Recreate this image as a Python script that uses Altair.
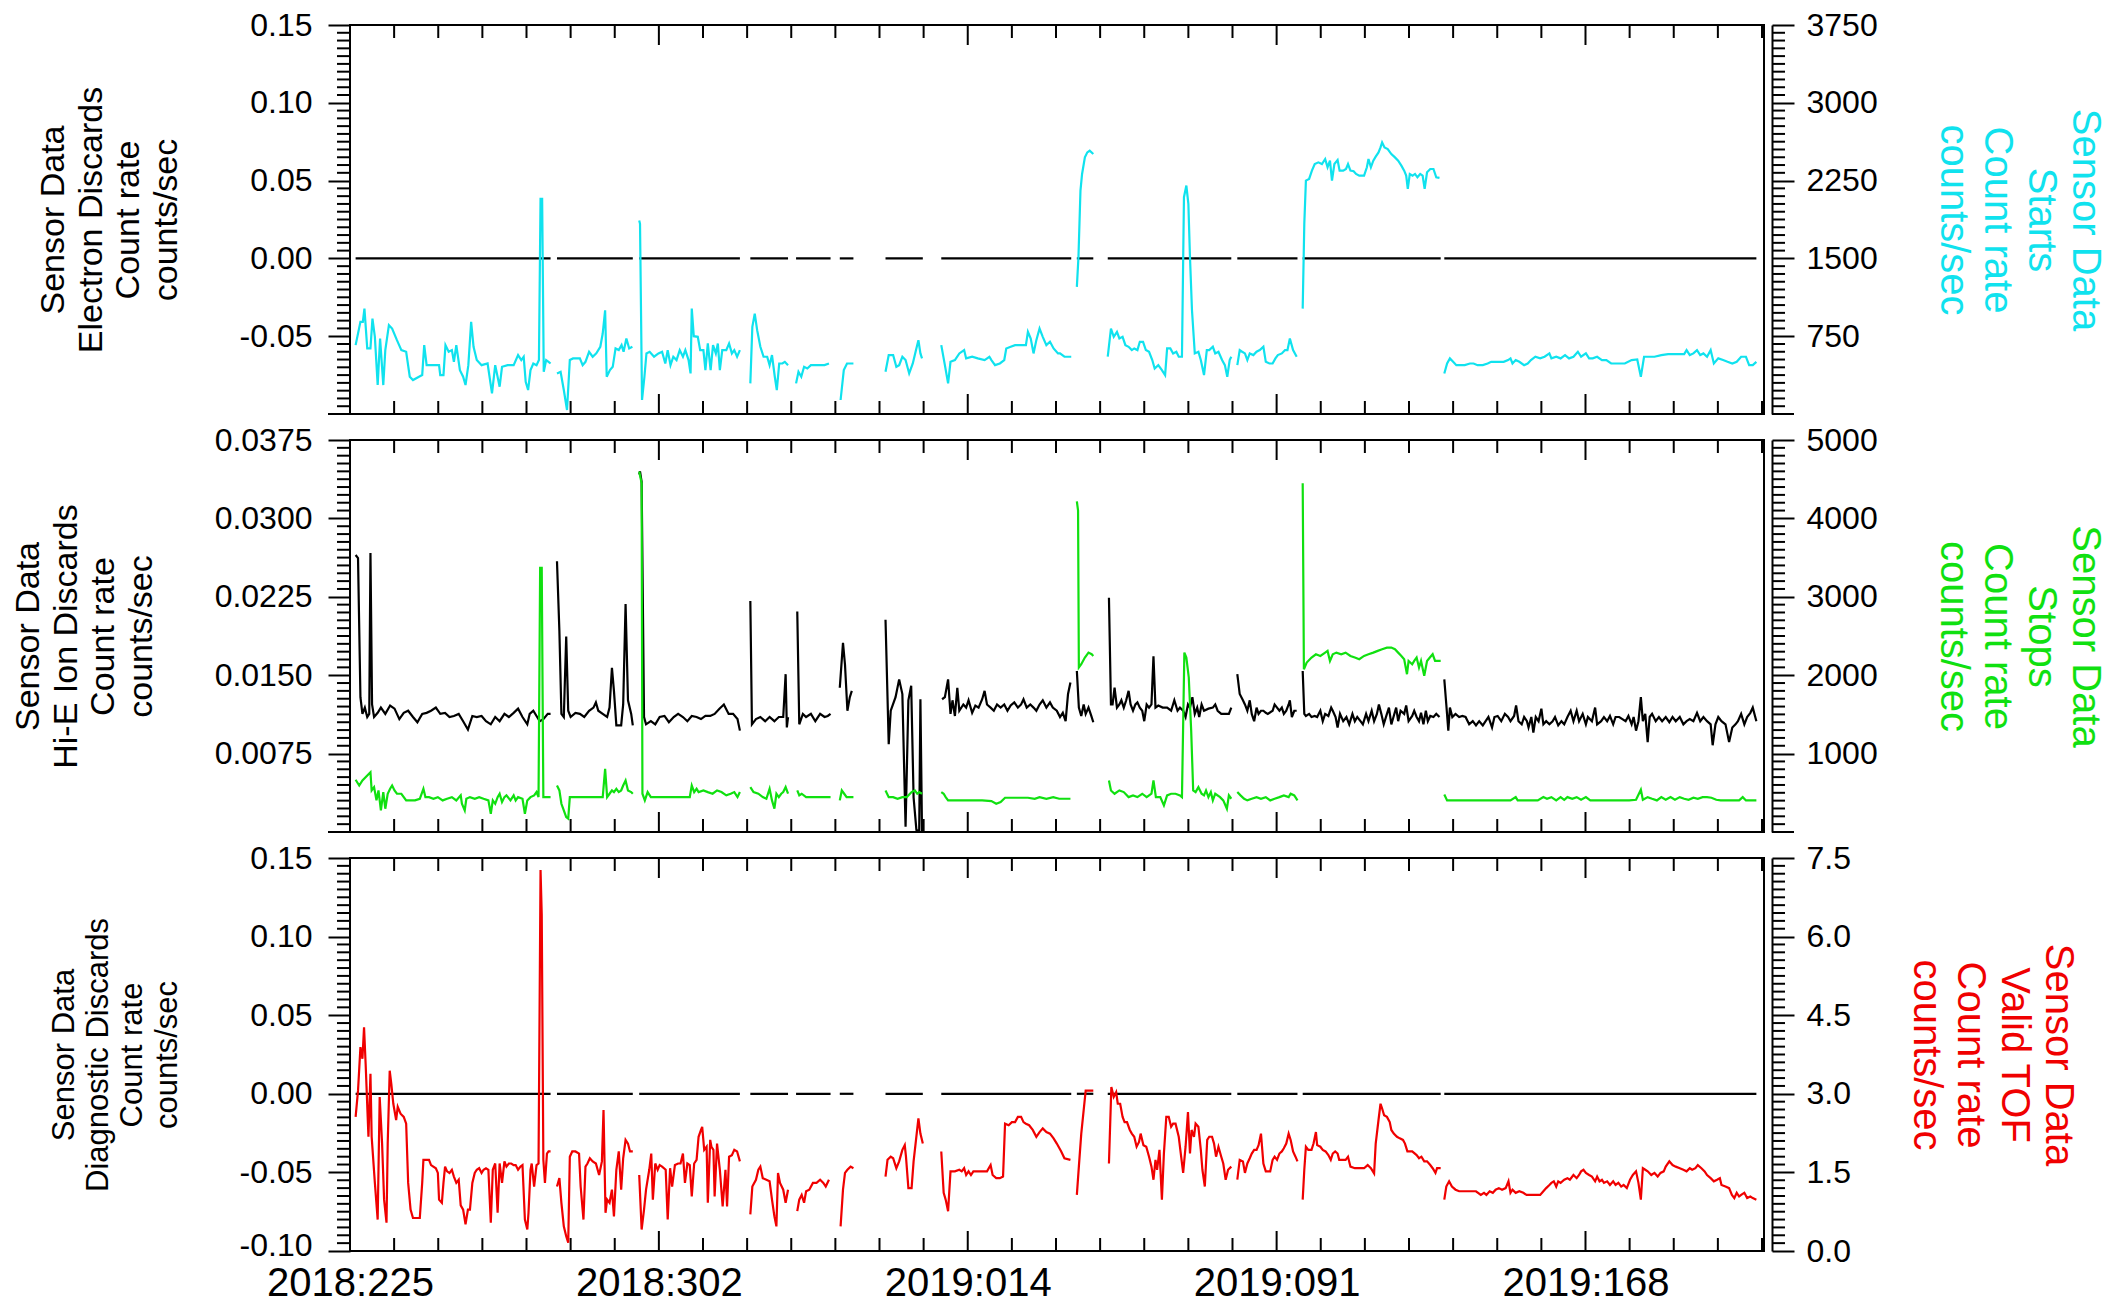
import altair as alt
import pandas as pd

# ----------------------------------------------------------------- x axis
X_DOMAIN = [225, 577.5]          # day count from 2018:000 (2019:001 == 366)
MAJOR_DAYS = [225, 302, 379, 456, 533]
MAJOR_LABELS = ["2018:225", "2018:302", "2019:014", "2019:091", "2019:168"]
MINOR_DAYS = [236, 247, 258, 269, 280, 291, 313, 324, 335, 346, 357, 368,
              390, 401, 412, 423, 434, 445, 467, 478, 489, 500, 511, 522,
              544, 555, 566, 577]

# data coverage intervals (the discards channels are 0 counts/sec there)
COVERAGE = [(226.4, 275.0), (276.6, 295.5), (297.1, 322.2), (324.8, 334.2),
            (336.2, 344.8), (347.1, 350.5), (358.5, 367.8), (372.4, 404.8),
            (406.2, 410.3), (413.9, 444.7), (446.2, 461.2), (462.5, 496.9),
            (497.8, 575.6)]
ELECTRON_DISCARDS = 0.0
DIAGNOSTIC_DISCARDS = 0.0

# ----------------------------------------------------------------- Starts (cyan, right axis panel 1)
STARTS = [
 [(226.4,664),(227.6,888),(228.2,888),(228.6,1016),(229.3,632),(230.1,632),(230.6,920),(231.2,744),(231.9,279),(232.5,728),
  (233.3,279),(233.8,616),(234.7,856),(235.5,824),(236.7,712),(237.8,616),(239.0,600),(239.9,359),(240.7,327),(242.2,359),
  (243.0,375),(243.5,664),(244.1,471),(247.2,471),(247.5,375),(248.3,375),(248.8,664),(249.6,600),(250.4,616),(250.9,503),
  (251.5,664),(252.4,423),(253.2,359),(253.8,279),(254.5,471),(255.2,888),(255.8,648),(256.6,520),(257.8,471),(259.3,487),
  (260.4,199),(261.2,471),(262.3,263),(262.9,455),(264.3,471),(265.8,471),(266.9,568),(267.7,520),(268.3,552),(268.8,311),
  (269.4,231),(270.0,423),(270.7,487),(271.5,471),(272.1,520),(272.5,2074),(272.9,2074),(273.3,407),(273.9,520),(274.5,503),(275.0,487)],
 [(276.6,391),(277.5,407),(278.3,231),(279.1,39),(279.8,520),(280.6,536),(282.3,536),(283.0,471),(283.7,503),(284.6,600),
  (285.5,552),(286.4,584),(287.4,648),(288.0,776),(288.6,1000),(289.0,359),(289.8,423),(290.5,455),(291.2,632),(292.0,616),
  (292.7,664),(293.2,600),(293.9,728),(294.6,632),(295.4,648)],
 [(297.1,1865),(297.3,1833),(297.8,135),(298.4,359),(298.9,584),(299.7,600),(300.8,552),(301.9,584),(302.8,600),(303.6,487),
  (304.2,616),(304.9,471),(305.6,552),(306.4,520),(307.2,616),(308.0,552),(308.6,616),(309.4,520),(309.9,391),(310.2,1016),
  (310.7,750),(311.7,744),(312.3,616),(313.1,616),(313.6,423),(314.2,680),(314.9,423),(315.5,664),(316.2,584),(316.7,680),
  (317.2,423),(317.8,616),(318.8,616),(319.5,680),(320.2,584),(320.8,616),(321.5,552),(322.2,616)],
 [(324.8,295),(325.3,840),(325.9,968),(326.5,808),(327.3,648),(328.1,552),(329.0,552),(329.6,471),(330.2,568),(330.9,359),
  (331.4,231),(332.0,487),(332.8,487),(333.4,503),(334.2,471)],
 [(336.2,295),(336.8,407),(337.5,359),(338.2,455),(339.0,439),(339.9,471),(341.6,471),(343.3,471),(344.4,487)],
 [(347.3,135),(348.1,423),(348.9,487),(350.5,487)],
 [(358.5,407),(359.3,568),(360.4,568),(361.2,455),(361.9,471),(362.7,552),(363.5,520),(364.4,391),(365.3,487),(366.1,616),
  (366.7,712),(367.2,584),(367.6,536)],
 [(372.4,664),(373.3,471),(374.1,295),(374.7,503),(375.8,520),(376.9,584),(378.1,616),(378.6,536),(380.1,552),(381.5,536),
  (383.2,520),(384.4,552),(384.9,520),(385.8,471),(387.0,487),(388.1,520),(388.6,632),(389.7,648),(390.8,664),(392.3,664),
  (393.5,664),(394.0,792),(394.7,728),(395.4,584),(396.1,712),(396.9,824),(397.7,744),(398.6,664),(399.5,696),(400.4,632),
  (401.5,584),(402.0,584),(403.1,552),(404.8,552)],
 [(406.2,1225),(406.6,1513),(407.1,2154),(407.5,2314),(408.2,2474),(408.8,2522),(409.4,2538),(410.3,2506)],
 [(413.9,552),(414.7,824),(415.4,744),(416.2,792),(416.8,728),(417.6,744),(418.3,664),(419.1,648),(419.9,616),(420.5,632),
  (421.3,616),(421.9,696),(422.7,696),(423.4,616),(424.2,600),(425.0,520),(425.6,439),(426.5,471),(427.4,423),(428.2,375),
  (428.7,632),(429.5,632),(430.2,584),(431.0,600),(431.6,552),(432.4,552),(432.9,2090),(433.5,2202),(434.0,2026),(434.4,1513),
  (434.9,1000),(435.6,584),(436.5,600),(437.1,520),(437.9,375),(438.6,616),(439.2,616),(440.1,648),(440.7,584),(441.5,600),
  (442.4,520),(443.1,471),(443.7,359),(444.3,520),(444.7,552)],
 [(446.2,471),(446.8,616),(447.4,600),(448.1,584),(448.7,520),(449.3,584),(450.2,568),(451.0,600),(451.8,616),(452.7,648),
  (453.3,503),(454.2,487),(455.0,487),(455.7,536),(456.3,568),(457.3,584),(458.1,616),(458.7,616),(459.3,728),(460.1,616),(461.0,552)],
 [(462.5,1016),(462.9,1833),(463.3,2250),(464.1,2266),(464.8,2346),(465.5,2410),(466.4,2426),(467.3,2410),(468.1,2458),(468.7,2378),
  (469.3,2442),(469.8,2250),(470.4,2410),(471.2,2449),(471.7,2346),(472.6,2346),(473.3,2362),(473.8,2410),(474.4,2346),(475.2,2340),
  (475.8,2314),(476.6,2298),(477.8,2298),(478.5,2378),(478.9,2458),(479.5,2378),(480.1,2442),(480.7,2481),(481.4,2522),(481.9,2570),
  (482.3,2618),(482.9,2570),(483.7,2554),(484.6,2506),(485.5,2474),(486.3,2442),(487.1,2394),(487.8,2346),(488.3,2298),(488.7,2170),
  (489.2,2314),(489.9,2298),(490.5,2314),(491.1,2282),(491.8,2314),(492.4,2298),(492.9,2170),(493.5,2330),(494.3,2362),(495.1,2362),
  (495.8,2282),(496.6,2276)],
 [(497.8,391),(498.5,487),(499.2,536),(500.0,503),(500.8,471),(501.7,471),(502.9,471),(504.2,487),(505.1,487),(506.1,471),
  (507.4,471),(508.6,487),(509.5,503),(510.3,503),(511.4,503),(512.6,503),(513.7,520),(514.3,536),(514.8,487),(515.6,520),
  (516.5,503),(517.7,471),(518.6,487),(519.4,520),(520.5,552),(521.7,536),(522.8,552),(524.0,584),(524.5,536),(525.7,552),
  (526.8,536),(527.9,568),(528.9,536),(530.0,552),(531.1,600),(531.9,552),(533.1,584),(533.9,536),(534.8,536),(535.9,552),
  (537.1,520),(538.2,520),(539.4,487),(541.1,487),(542.8,487),(544.5,520),(545.9,526),(546.8,359),(547.6,552),(548.5,552),
  (550.2,552),(551.9,568),(553.6,578),(555.3,578),(557.6,578),(558.2,616),(559.0,568),(559.9,584),(560.8,616),(561.6,568),
  (562.4,584),(563.3,552),(564.2,616),(565.0,487),(566.1,536),(567.3,520),(568.4,503),(569.6,487),(570.7,503),(571.8,552),
  (573.0,552),(573.8,471),(574.7,471),(575.6,503)],
]

# ----------------------------------------------------------------- Hi-E Ion Discards (black, left axis panel 2)
HIE_ION = [
 [(226.4,0.0265),(227.0,0.0262),(227.6,0.0129),(228.1,0.0113),(228.7,0.0119),(229.3,0.0110),(229.8,0.0113),(230.1,0.0267),
  (230.5,0.0122),(231.0,0.0110),(231.9,0.0114),(232.7,0.0119),(233.8,0.0113),(235.0,0.0121),(236.1,0.0118),(237.3,0.0108),
  (238.4,0.0114),(239.5,0.0116),(240.7,0.0110),(241.8,0.0105),(243.0,0.0113),(244.1,0.0114),(245.2,0.0116),(246.4,0.0119),
  (247.5,0.0113),(248.7,0.0114),(249.8,0.0110),(250.9,0.0111),(252.1,0.0113),(253.2,0.0106),(254.4,0.0098),(255.5,0.0111),
  (256.6,0.0110),(257.8,0.0111),(258.9,0.0106),(260.1,0.0103),(261.2,0.0110),(262.3,0.0106),(263.5,0.0113),(264.6,0.0110),
  (265.8,0.0114),(266.9,0.0118),(268.0,0.0110),(269.2,0.0103),(269.8,0.0113),(270.7,0.0116),(271.5,0.0111),(272.3,0.0106),
  (273.2,0.0108),(274.3,0.0113),(275.0,0.0113)],
 [(276.6,0.0259),(277.2,0.0192),(277.7,0.0113),(278.3,0.0110),(278.9,0.0187),(279.4,0.0116),(280.0,0.0110),(281.2,0.0114),
  (282.3,0.0113),(283.4,0.0110),(284.6,0.0116),(285.7,0.0119),(286.3,0.0124),(286.9,0.0116),(288.0,0.0113),(289.1,0.0110),
  (289.7,0.0119),(290.3,0.0157),(290.8,0.0135),(291.4,0.0102),(292.6,0.0102),(293.1,0.0122),(293.7,0.0218),(294.3,0.0126),
  (295.1,0.0113),(295.5,0.0102)],
 [(297.1,0.0342),(297.3,0.0345),(297.7,0.0335),(298.3,0.0110),(298.8,0.0103),(300.0,0.0106),(301.1,0.0103),(302.2,0.0110),
  (303.4,0.0111),(304.5,0.0105),(305.7,0.0110),(306.8,0.0113),(308.0,0.0110),(309.1,0.0106),(310.2,0.0111),(311.4,0.0110),
  (312.5,0.0108),(313.6,0.0111),(314.8,0.0111),(315.9,0.0113),(317.1,0.0118),(318.2,0.0122),(319.4,0.0113),(320.5,0.0113),
  (321.6,0.0108),(322.2,0.0097)],
 [(324.8,0.0221),(325.2,0.0103),(326.2,0.0108),(327.3,0.0110),(328.5,0.0106),(329.6,0.0110),(330.8,0.0106),(331.9,0.0110),
  (333.0,0.0110),(333.6,0.0151),(333.9,0.0100),(334.2,0.0110)],
 [(336.5,0.0211),(337.0,0.0103),(337.9,0.0113),(338.7,0.0110),(339.9,0.0113),(341.0,0.0106),(342.2,0.0113),(343.3,0.0110),
  (344.1,0.0111),(344.8,0.0113)],
 [(347.1,0.0138),(347.9,0.0181),(348.4,0.0160),(349.0,0.0116),(349.6,0.0129),(350.1,0.0135)],
 [(358.5,0.0203),(359.3,0.0084),(359.8,0.0116),(361.0,0.0129),(361.9,0.0146),(362.7,0.0132),(363.5,0.0005),(364.2,0.0126),
  (364.9,0.0140),(365.5,0.0033),(366.2,0.0002),(366.9,0.0001),(367.2,0.0127),(367.6,0.0000)],
 [(372.6,0.0127),(373.3,0.0129),(374.1,0.0146),(374.7,0.0113),(375.2,0.0126),(375.8,0.0111),(376.4,0.0138),(376.9,0.0116),
  (377.9,0.0122),(378.6,0.0119),(379.2,0.0126),(380.1,0.0114),(380.9,0.0121),(381.7,0.0119),(382.6,0.0127),(383.2,0.0135),
  (383.8,0.0122),(384.7,0.0119),(385.5,0.0116),(386.3,0.0122),(387.2,0.0119),(388.1,0.0122),(388.9,0.0116),(389.7,0.0121),
  (390.6,0.0124),(391.5,0.0119),(392.3,0.0122),(392.9,0.0127),(393.7,0.0119),(394.6,0.0122),(395.4,0.0119),(396.1,0.0116),
  (396.9,0.0122),(397.7,0.0126),(398.6,0.0119),(399.5,0.0124),(400.2,0.0119),(401.2,0.0116),(402.0,0.0110),(402.7,0.0114),
  (403.4,0.0106),(404.0,0.0132),(404.6,0.0143)],
 [(406.2,0.0154),(406.7,0.0119),(407.3,0.0111),(407.9,0.0122),(408.4,0.0113),(409.1,0.0119),(409.8,0.0111),(410.3,0.0105)],
 [(414.2,0.0224),(414.7,0.0122),(415.1,0.0122),(415.6,0.0138),(416.2,0.0119),(416.8,0.0122),(417.3,0.0126),(417.9,0.0119),
  (418.5,0.0126),(419.1,0.0135),(419.6,0.0122),(420.2,0.0116),(420.8,0.0122),(421.3,0.0124),(421.9,0.0119),(422.5,0.0116),
  (423.0,0.0106),(423.6,0.0122),(424.2,0.0119),(424.8,0.0122),(425.3,0.0168),(425.8,0.0119),(426.5,0.0121),(427.6,0.0119),
  (428.7,0.0119),(429.7,0.0116),(430.5,0.0126),(431.3,0.0116),(431.9,0.0119),(432.7,0.0116),(433.3,0.0110),(433.9,0.0122),
  (434.4,0.0119),(435.0,0.0129),(435.6,0.0113),(436.2,0.0119),(436.7,0.0110),(437.3,0.0122),(437.9,0.0116),(439.0,0.0118),
  (440.1,0.0119),(440.7,0.0122),(441.3,0.0116),(442.2,0.0113),(443.0,0.0113),(444.1,0.0113),(444.7,0.0119)],
 [(446.2,0.0151),(446.8,0.0132),(447.6,0.0126),(448.1,0.0122),(448.7,0.0116),(449.3,0.0126),(449.8,0.0113),(450.4,0.0106),
  (451.0,0.0119),(451.5,0.0113),(452.1,0.0116),(452.7,0.0116),(453.3,0.0114),(453.8,0.0113),(455.0,0.0116),(455.5,0.0122),
  (456.1,0.0119),(456.7,0.0116),(457.3,0.0119),(457.8,0.0113),(458.4,0.0116),(459.0,0.0122),(459.3,0.0126),(459.8,0.0110),
  (460.4,0.0116),(461.0,0.0116)],
 [(462.5,0.0154),(462.9,0.0113),(463.3,0.0111),(464.1,0.0113),(464.7,0.0110),(465.5,0.0111),(466.1,0.0110),(466.9,0.0116),
  (467.5,0.0106),(468.1,0.0113),(468.9,0.0111),(469.6,0.0119),(470.0,0.0116),(470.7,0.0110),(471.2,0.0100),(471.8,0.0113),
  (472.6,0.0106),(473.4,0.0110),(474.1,0.0103),(474.9,0.0113),(475.5,0.0106),(476.1,0.0110),(476.9,0.0106),(477.5,0.0103),
  (478.3,0.0113),(478.9,0.0106),(479.7,0.0116),(480.3,0.0106),(481.0,0.0113),(481.5,0.0122),(482.1,0.0113),(482.7,0.0103),
  (483.5,0.0113),(484.0,0.0119),(484.6,0.0103),(485.2,0.0111),(485.8,0.0119),(486.3,0.0106),(486.9,0.0116),(487.8,0.0113),
  (488.3,0.0121),(488.9,0.0106),(489.8,0.0111),(490.3,0.0116),(490.9,0.0110),(491.5,0.0106),(492.0,0.0114),(492.6,0.0103),
  (493.2,0.0116),(493.7,0.0106),(494.3,0.0111),(495.1,0.0110),(495.8,0.0113),(496.6,0.0110)],
 [(497.8,0.0146),(498.3,0.0122),(498.8,0.0097),(499.2,0.0119),(499.8,0.0110),(500.6,0.0113),(501.5,0.0110),(502.3,0.0111),
  (503.1,0.0110),(504.0,0.0103),(504.9,0.0106),(505.7,0.0102),(506.5,0.0106),(507.4,0.0102),(508.1,0.0106),(508.8,0.0110),
  (509.7,0.0100),(510.3,0.0110),(511.1,0.0111),(512.0,0.0106),(512.9,0.0113),(513.7,0.0110),(514.3,0.0106),(515.2,0.0111),
  (515.7,0.0121),(516.3,0.0106),(517.1,0.0103),(517.7,0.0110),(518.4,0.0106),(518.8,0.0100),(519.5,0.0110),(520.0,0.0095),
  (520.6,0.0110),(521.3,0.0106),(522.0,0.0118),(522.5,0.0103),(523.2,0.0106),(524.0,0.0103),(524.8,0.0106),(525.4,0.0110),
  (526.2,0.0102),(527.0,0.0106),(527.7,0.0103),(528.5,0.0110),(529.3,0.0116),(530.0,0.0106),(530.8,0.0116),(531.4,0.0106),
  (532.3,0.0113),(533.1,0.0103),(533.6,0.0110),(534.6,0.0106),(535.4,0.0119),(535.9,0.0103),(536.9,0.0106),(537.6,0.0110),
  (538.4,0.0106),(539.1,0.0111),(539.9,0.0103),(540.5,0.0110),(541.4,0.0110),(542.2,0.0108),(543.0,0.0106),(543.7,0.0111),
  (544.5,0.0103),(545.0,0.0110),(545.6,0.0097),(546.2,0.0106),(546.8,0.0129),(547.3,0.0106),(547.9,0.0113),(548.5,0.0086),
  (549.0,0.0110),(549.6,0.0113),(550.5,0.0106),(551.3,0.0110),(552.1,0.0106),(553.0,0.0110),(553.9,0.0105),(554.7,0.0110),
  (555.5,0.0106),(556.5,0.0110),(557.4,0.0103),(558.2,0.0106),(559.0,0.0108),(559.9,0.0106),(560.8,0.0114),(561.6,0.0106),
  (562.4,0.0110),(563.3,0.0106),(564.2,0.0103),(564.7,0.0083),(565.4,0.0103),(566.1,0.0110),(566.9,0.0106),(567.9,0.0103),
  (568.8,0.0086),(569.6,0.0100),(570.4,0.0103),(571.0,0.0106),(571.8,0.0113),(572.6,0.0103),(573.3,0.0110),(574.1,0.0114),
  (574.7,0.0119),(575.6,0.0106)],
]

# ----------------------------------------------------------------- Stops (green, right axis panel 2)
STOPS = [
 [(226.4,666),(227.3,593),(228.1,657),(230.1,763),(230.4,530),(231.0,572),(231.6,403),(232.1,530),(232.7,276),(233.3,509),
  (233.8,297),(234.4,488),(235.0,551),(235.5,593),(236.1,530),(236.7,488),(237.8,488),(239.0,403),(240.1,403),(241.2,403),
  (242.4,424),(243.3,551),(243.8,445),(244.7,445),(245.8,424),(246.9,445),(248.1,403),(249.2,424),(250.4,445),(251.5,403),
  (252.6,467),(252.9,360),(253.6,276),(254.0,424),(254.9,445),(256.1,424),(257.2,445),(258.3,424),(259.5,403),(260.1,233),
  (260.6,403),(261.2,360),(261.8,445),(262.3,488),(262.9,382),(263.5,445),(264.0,467),(265.0,403),(265.8,467),(266.3,403),
  (266.9,445),(268.0,424),(268.6,233),(269.2,403),(270.0,445),(270.9,467),(271.5,509),(272.0,445),(272.4,3369),(272.8,3369),
  (273.2,445),(273.9,445),(275.0,445)],
 [(276.6,593),(277.2,530),(277.7,360),(278.3,276),(278.9,191),(279.4,170),(279.8,445),(280.6,445),(282.3,445),(284.6,445),
  (286.9,445),(288.0,445),(288.6,805),(289.1,445),(289.7,488),(290.3,530),(290.8,509),(291.4,551),(292.0,509),(292.6,530),
  (293.1,593),(293.7,657),(294.3,530),(295.1,509),(295.5,488)],
 [(297.1,4598),(297.7,4449),(297.9,488),(298.5,403),(299.2,509),(300.0,445),(301.1,445),(302.8,445),(305.1,445),(307.4,445),
  (309.7,445),(310.2,593),(310.8,509),(311.4,551),(311.9,509),(313.1,530),(314.2,509),(315.4,488),(316.5,530),(317.6,509),
  (318.8,467),(319.9,488),(320.8,509),(321.6,445),(322.2,509)],
 [(324.8,572),(325.6,509),(326.8,488),(327.9,445),(328.8,424),(329.6,551),(330.2,403),(330.8,297),(331.3,488),(331.9,445),
  (332.5,488),(333.0,509),(333.6,572),(334.2,488)],
 [(336.5,530),(337.0,467),(337.6,488),(338.7,445),(340.4,445),(342.7,445),(344.8,445)],
 [(347.1,403),(347.6,530),(348.2,488),(348.8,445),(349.6,445),(350.5,445)],
 [(358.5,530),(359.3,445),(360.4,445),(361.5,424),(362.7,445),(363.8,445),(365.0,509),(365.8,530),(366.4,488),(366.9,509),(367.6,488)],
 [(372.4,509),(373.0,488),(373.5,445),(374.1,403),(375.2,403),(378.1,403),(382.6,403),(384.9,394),(386.1,360),(387.2,382),
  (388.3,437),(390.6,437),(394.0,437),(395.7,424),(396.9,445),(398.6,424),(400.3,445),(401.8,424),(402.5,424),(404.6,424)],
 [(406.2,4216),(406.5,4100),(406.7,2098),(407.3,2140),(408.2,2225),(409.1,2288),(409.9,2267),(410.3,2246)],
 [(414.2,657),(414.7,530),(415.6,488),(416.8,530),(417.9,509),(419.1,445),(420.2,467),(421.3,445),(422.5,488),(423.6,445),
  (424.8,488),(425.3,657),(425.9,445),(427.0,445),(427.9,339),(428.7,467),(429.7,488),(430.8,488),(431.9,467),(432.4,445),
  (433.0,2288),(433.5,2225),(434.1,1971),(434.7,1293),(435.2,530),(435.8,509),(436.5,572),(437.3,488),(437.9,467),(438.4,530),
  (439.0,445),(439.6,509),(440.1,403),(440.7,488),(441.9,445),(442.7,403),(443.6,297),(444.1,467),(444.7,424)],
 [(446.2,509),(447.0,467),(447.9,424),(448.7,403),(449.8,424),(451.0,445),(452.1,424),(453.3,445),(454.4,403),(455.5,424),
  (456.7,445),(457.8,467),(459.0,445),(459.5,488),(460.4,467),(461.2,403)],
 [(462.5,4449),(462.8,2076),(463.5,2161),(464.7,2225),(465.8,2267),(466.9,2246),(468.1,2288),(468.7,2310),(469.3,2182),(470.0,2267),
  (470.9,2288),(472.1,2267),(473.2,2288),(474.4,2246),(475.5,2225),(476.6,2204),(477.8,2246),(478.9,2267),(480.1,2288),(481.2,2310),
  (482.3,2331),(483.5,2352),(484.6,2352),(485.5,2331),(486.3,2288),(487.1,2246),(487.8,2204),(488.5,2013),(488.9,2182),(489.8,2140),
  (490.3,2182),(490.9,2225),(491.5,2098),(492.0,2182),(492.8,1992),(493.5,2182),(494.2,2225),(494.9,2267),(495.5,2182),(496.3,2182),
  (496.9,2182)],
 [(497.8,479),(498.5,403),(500.6,403),(502.9,403),(505.1,403),(507.4,403),(509.7,403),(512.0,403),(514.3,403),(515.6,445),
  (516.1,403),(518.8,403),(521.1,403),(522.5,445),(523.4,424),(524.5,445),(525.7,403),(526.8,445),(527.7,411),(528.5,445),
  (529.7,424),(530.8,445),(531.9,411),(533.1,445),(534.2,403),(535.4,403),(537.1,403),(539.4,403),(541.6,403),(543.9,403),
  (545.6,411),(546.8,539),(547.3,411),(548.5,445),(549.6,424),(550.8,403),(551.9,445),(553.0,411),(554.2,445),(555.3,411),
  (556.5,445),(557.6,424),(558.7,411),(559.9,437),(561.0,424),(562.2,445),(563.3,445),(564.4,437),(565.6,411),(566.7,403),
  (569.0,403),(571.3,403),(572.2,445),(573.0,403),(575.6,403)],
]

# ----------------------------------------------------------------- Valid TOF (red, right axis panel 3)
VALID_TOF = [
 [(226.4,2.56),(227.0,3.06),(227.6,3.89),(228.1,3.67),(228.5,4.27),(228.9,3.57),(229.6,2.18),(230.1,3.38),(230.4,2.18),(231.2,1.30),
  (231.9,0.60),(232.4,2.94),(233.0,2.05),(233.5,0.98),(234.1,0.54),(234.4,2.05),(234.9,3.44),(235.3,3.19),(235.8,2.81),(236.5,2.50),
  (236.9,2.75),(237.6,2.62),(238.4,2.56),(239.0,2.43),(239.5,1.30),(240.1,0.79),(240.7,0.63),(241.8,0.63),(242.4,0.63),(243.0,1.30),
  (243.3,1.74),(244.7,1.74),(245.2,1.64),(246.4,1.58),(246.9,1.49),(247.2,0.98),(247.9,0.92),(248.3,1.30),(248.7,1.61),(249.2,1.52),
  (249.8,1.49),(250.4,1.55),(250.9,1.42),(251.5,1.30),(252.1,1.36),(252.6,0.87),(253.2,0.79),(253.8,0.51),(254.4,0.79),(254.9,0.79),
  (255.5,1.30),(256.1,1.49),(256.6,1.55),(257.2,1.58),(257.8,1.49),(258.3,1.55),(258.9,1.58),(259.5,1.55),(260.1,0.54),(260.6,1.55),
  (261.2,1.67),(261.8,0.73),(262.3,1.67),(262.9,1.30),(263.5,1.71),(264.0,1.61),(264.6,1.67),(265.2,1.67),(265.8,1.64),(266.3,1.64),
  (266.9,1.55),(267.5,1.61),(268.0,1.64),(268.6,0.60),(269.2,0.41),(269.5,0.73),(270.0,1.55),(270.3,1.67),(270.9,1.23),(271.5,1.64),
  (272.0,1.67),(272.5,7.27),(272.8,6.41),(273.2,1.74),(273.6,1.30),(274.1,1.86),(274.5,1.90),(275.0,1.90)],
 [(276.6,1.23),(277.2,1.39),(277.7,0.92),(278.3,0.47),(278.9,0.28),(279.4,0.16),(279.8,1.80),(280.4,1.90),(281.2,1.90),(282.1,1.86),
  (282.5,1.23),(283.2,0.60),(283.7,1.61),(284.2,1.67),(284.8,1.77),(285.5,1.71),(286.3,1.67),(287.1,1.45),(287.8,1.71),(288.2,2.69),
  (288.7,0.73),(289.1,0.98),(289.7,0.92),(290.3,1.17),(290.8,0.66),(291.4,1.55),(292.0,1.90),(292.6,1.17),(293.1,1.77),(293.7,2.12),
  (294.3,2.05),(294.8,1.90),(295.5,1.90)],
 [(297.1,1.45),(297.7,0.41),(298.3,0.79),(298.8,1.17),(299.6,1.55),(300.1,1.86),(300.5,0.98),(301.1,1.67),(301.7,1.55),(302.2,1.64),
  (302.8,1.61),(303.7,1.55),(304.2,0.60),(304.8,1.58),(305.3,1.23),(306.0,1.64),(306.8,1.67),(307.4,1.67),(308.0,1.86),(308.5,1.30),
  (309.1,1.67),(309.7,1.64),(310.2,1.04),(310.8,1.67),(311.4,1.74),(311.9,2.18),(312.5,2.31),(312.8,2.37),(313.3,1.93),(313.9,1.99),
  (314.2,0.92),(314.8,2.12),(315.1,1.99),(315.6,1.93),(315.9,1.04),(316.5,2.05),(317.2,1.55),(317.9,0.85),(318.6,1.55),(319.0,0.85),
  (319.5,1.80),(320.2,1.83),(320.8,1.93),(321.5,1.90),(322.2,1.71)],
 [(324.8,0.70),(325.3,1.23),(326.2,1.36),(326.8,1.55),(327.3,1.61),(327.9,1.39),(328.8,1.36),(329.6,1.33),(330.2,0.98),(330.8,0.66),
  (331.3,0.47),(331.7,1.49),(332.2,1.30),(333.0,1.17),(333.6,0.92),(334.2,1.17)],
 [(336.5,0.76),(337.0,0.98),(337.6,1.07),(338.2,0.92),(338.7,1.14),(339.5,1.17),(340.4,1.30),(341.3,1.30),(342.2,1.36),(343.0,1.30),
  (343.6,1.23),(344.4,1.36)],
 [(347.3,0.47),(347.9,1.17),(348.4,1.49),(349.0,1.55),(349.8,1.61),(350.5,1.58)],
 [(358.5,1.42),(359.0,1.74),(359.8,1.80),(360.4,1.77),(361.2,1.58),(361.9,1.71),(362.7,1.93),(363.3,2.02),(363.6,1.80),(364.2,1.20),
  (365.0,1.20),(365.5,1.71),(366.1,2.12),(366.7,2.53),(367.2,2.24),(367.8,2.05)],
 [(372.4,1.90),(373.0,1.11),(373.5,0.98),(374.1,0.76),(374.7,1.52),(375.8,1.52),(376.9,1.55),(377.5,1.52),(378.1,1.58),(378.6,1.45),
  (379.2,1.52),(379.8,1.45),(380.4,1.52),(381.5,1.52),(382.6,1.52),(383.8,1.52),(384.7,1.64),(385.2,1.45),(386.1,1.39),(387.0,1.39),
  (387.8,1.42),(388.3,2.43),(389.2,2.40),(390.0,2.46),(390.8,2.46),(391.5,2.56),(392.3,2.56),(392.9,2.46),(393.5,2.43),(394.3,2.40),
  (395.2,2.31),(396.1,2.18),(396.9,2.27),(397.7,2.34),(398.6,2.27),(399.5,2.24),(400.4,2.15),(401.2,2.05),(402.3,1.90),(403.1,1.77),
  (404.6,1.74)],
 [(406.2,1.07),(406.7,1.61),(407.3,2.24),(407.9,2.69),(408.4,3.06),(409.1,3.06),(409.9,3.06),(410.3,3.06)],
 [(414.2,1.67),(414.8,3.13),(415.4,2.94),(416.0,3.03),(416.4,2.81),(417.0,2.81),(417.6,2.56),(418.1,2.46),(418.7,2.46),(419.4,2.31),
  (419.9,2.24),(420.5,2.18),(421.1,1.99),(421.7,2.08),(422.1,2.24),(422.8,2.02),(423.5,1.99),(424.2,1.80),(424.8,1.61),(425.3,1.36),
  (425.8,1.74),(426.2,1.55),(426.8,1.93),(427.4,0.98),(427.9,1.86),(428.5,2.56),(429.1,2.56),(429.7,2.37),(430.2,2.43),(430.8,2.43),
  (431.6,2.18),(432.2,1.80),(432.7,1.49),(433.3,1.99),(433.9,2.65),(434.4,1.86),(434.8,2.31),(435.4,2.18),(435.8,2.43),(436.5,2.37),
  (437.1,1.93),(437.5,1.55),(438.1,1.23),(438.7,2.12),(439.2,2.18),(439.9,2.18),(440.4,2.05),(440.9,1.80),(441.5,1.99),(442.2,1.80),
  (442.7,1.67),(443.3,1.36),(443.9,1.55),(444.7,1.61)],
 [(446.2,1.36),(446.8,1.74),(447.6,1.71),(448.1,1.49),(448.7,1.67),(449.3,1.77),(449.8,1.86),(450.4,1.93),(451.0,1.93),(451.5,2.02),
  (452.1,2.24),(452.7,1.67),(453.3,1.52),(453.8,1.52),(454.4,1.52),(455.0,1.74),(455.5,1.80),(456.1,1.74),(456.7,1.86),(457.3,1.90),
  (457.8,1.96),(458.4,2.05),(459.0,2.24),(459.5,2.12),(460.1,1.90),(460.7,1.80),(461.2,1.71)],
 [(462.5,0.98),(462.9,1.55),(463.3,1.99),(463.9,1.93),(464.7,1.93),(465.2,2.05),(465.8,2.27),(466.1,2.02),(466.9,1.99),(467.5,1.93),
  (468.2,1.90),(468.9,1.83),(469.5,1.74),(470.0,1.86),(470.6,1.90),(471.2,1.86),(471.6,1.74),(472.3,1.74),(473.2,1.74),(473.8,1.80),
  (474.4,1.61),(475.5,1.58),(476.6,1.58),(477.8,1.58),(478.7,1.64),(479.5,1.58),(480.3,1.48),(480.7,2.05),(481.4,2.50),(481.9,2.81),
  (482.3,2.72),(482.8,2.59),(483.5,2.56),(484.2,2.46),(484.6,2.31),(485.2,2.24),(486.0,2.18),(486.7,2.15),(487.5,2.12),(488.0,2.05),
  (488.6,1.90),(489.8,1.90),(490.9,1.83),(491.5,1.77),(492.1,1.80),(492.8,1.71),(493.5,1.71),(494.3,1.64),(494.9,1.58),(495.6,1.49),
  (496.0,1.58),(496.9,1.58)],
 [(497.8,0.98),(498.3,1.23),(499.0,1.33),(499.7,1.23),(500.6,1.17),(501.5,1.14),(502.3,1.14),(503.4,1.14),(504.6,1.14),(505.7,1.14),
  (506.9,1.07),(507.7,1.11),(508.3,1.07),(509.1,1.14),(509.9,1.11),(510.6,1.17),(511.4,1.20),(512.2,1.17),(513.1,1.20),(513.8,1.33),
  (514.3,1.11),(514.8,1.17),(515.6,1.11),(516.5,1.14),(517.5,1.11),(518.3,1.07),(519.4,1.07),(520.5,1.07),(521.7,1.07),(522.5,1.14),
  (523.2,1.20),(524.0,1.26),(524.5,1.30),(525.1,1.33),(525.7,1.23),(526.2,1.33),(526.8,1.30),(527.7,1.36),(528.5,1.39),(529.1,1.36),
  (530.0,1.45),(530.8,1.39),(531.4,1.45),(531.9,1.52),(532.5,1.55),(533.1,1.49),(533.9,1.45),(534.6,1.42),(535.4,1.33),(535.9,1.42),
  (536.5,1.33),(537.1,1.36),(537.6,1.30),(538.4,1.33),(539.1,1.26),(539.9,1.33),(540.5,1.26),(541.2,1.30),(541.9,1.23),(542.5,1.26),
  (543.3,1.20),(544.1,1.36),(544.8,1.45),(545.6,1.52),(546.2,1.30),(546.8,0.98),(547.3,1.58),(547.9,1.55),(548.5,1.52),(549.4,1.45),
  (550.2,1.49),(551.0,1.42),(551.7,1.49),(552.5,1.52),(553.0,1.61),(553.9,1.71),(554.7,1.64),(555.5,1.61),(556.5,1.58),(557.4,1.55),
  (558.2,1.52),(559.0,1.58),(559.6,1.55),(560.4,1.58),(561.0,1.64),(561.9,1.58),(562.7,1.52),(563.3,1.45),(564.2,1.39),(565.0,1.33),
  (565.8,1.36),(566.5,1.39),(566.9,1.26),(567.9,1.23),(568.8,1.20),(569.5,1.07),(570.1,1.01),(570.7,1.11),(571.3,1.04),(571.8,1.07),
  (572.6,1.11),(573.3,1.01),(574.1,1.04),(574.7,1.01),(575.6,0.98)],
]

# ----------------------------------------------------------------- axis ticks / labels
P1_LEFT_TICKS = [-0.10, -0.05, 0.0, 0.05, 0.10, 0.15]
P1_LEFT_LABELS = ["", "-0.05", "0.00", "0.05", "0.10", "0.15"]
P1_RIGHT_TICKS = [0, 750, 1500, 2250, 3000, 3750]
P1_RIGHT_LABELS = ["", "750", "1500", "2250", "3000", "3750"]
P2_LEFT_TICKS = [0.0, 0.0075, 0.015, 0.0225, 0.03, 0.0375]
P2_LEFT_LABELS = ["", "0.0075", "0.0150", "0.0225", "0.0300", "0.0375"]
P2_RIGHT_TICKS = [0, 1000, 2000, 3000, 4000, 5000]
P2_RIGHT_LABELS = ["", "1000", "2000", "3000", "4000", "5000"]
P3_LEFT_TICKS = [-0.10, -0.05, 0.0, 0.05, 0.10, 0.15]
P3_LEFT_LABELS = ["-0.10", "-0.05", "0.00", "0.05", "0.10", "0.15"]
P3_RIGHT_TICKS = [0.0, 1.5, 3.0, 4.5, 6.0, 7.5]
P3_RIGHT_LABELS = ["0.0", "1.5", "3.0", "4.5", "6.0", "7.5"]

TITLE_STARTS = ["Sensor Data", "Starts", "Count rate", "counts/sec"]
TITLE_STOPS = ["Sensor Data", "Stops", "Count rate", "counts/sec"]
TITLE_TOF = ["Sensor Data", "Valid TOF", "Count rate", "counts/sec"]
TITLE_ELEC = ["Sensor Data", "Electron Discards", "Count rate", "counts/sec"]
TITLE_HIE = ["Sensor Data", "Hi-E Ion Discards", "Count rate", "counts/sec"]
TITLE_DIAG = ["Sensor Data", "Diagnostic Discards", "Count rate", "counts/sec"]

CYAN = "#10E2EE"
GREEN = "#10E010"
RED = "#F00000"
FONT = "Liberation Sans"

W = 1414
MINOR_N = 10
RIGHT_OFFSET = 8
MAJOR_LEN = 22
MINOR_LEN = 13


def seg_frame(segments):
    rows = []
    for i, seg in enumerate(segments):
        for t, v in seg:
            rows.append({"t": t, "v": v, "seg": i})
    return pd.DataFrame(rows)


def const_frame(value):
    rows = []
    for i, (a, b) in enumerate(COVERAGE):
        rows.append({"t": a, "v": value, "seg": i})
        rows.append({"t": b, "v": value, "seg": i})
    return pd.DataFrame(rows)


def label_expr(ticks, labels):
    return "%s[indexof(%s, datum.value)]" % (repr(labels), repr(ticks))


def minor_values(ticks):
    out = []
    for a, b in zip(ticks[:-1], ticks[1:]):
        for k in range(1, MINOR_N):
            out.append(a + (b - a) * k / MINOR_N)
    return out


XSCALE = alt.Scale(domain=X_DOMAIN, nice=False, zero=False)


def x_tick_layers(h):
    layers = []
    for days, ln in ((MAJOR_DAYS, 20), (MINOR_DAYS, 13)):
        df = pd.DataFrame({"t": days})
        base = alt.Chart(df).mark_rule(color="black", strokeWidth=2)
        layers.append(base.encode(x=alt.X("t:Q", scale=XSCALE, axis=None),
                                  y=alt.value(0), y2=alt.value(ln)))
        layers.append(base.encode(x=alt.X("t:Q", scale=XSCALE, axis=None),
                                  y=alt.value(h), y2=alt.value(h - ln)))
    return layers


def y_tick_rules(values, scale, x_from, x_to):
    return alt.Chart(pd.DataFrame({"v": values})).mark_rule(color="black", strokeWidth=2).encode(
        x=alt.value(x_from), x2=alt.value(x_to),
        y=alt.Y("v:Q", scale=scale, axis=None))


def panel(h, left_df, left_color, left_ticks, left_labels, left_title, left_title_size,
          right_df, right_color, right_ticks, right_labels, right_title, show_x):
    lscale = alt.Scale(domain=[left_ticks[0], left_ticks[-1]], nice=False, zero=False)
    rscale = alt.Scale(domain=[right_ticks[0], right_ticks[-1]], nice=False, zero=False)

    # labelled ticks go through the axes, unlabelled major ticks are drawn as rules
    l_lab = [t for t, s in zip(left_ticks, left_labels) if s]
    l_unl = [t for t, s in zip(left_ticks, left_labels) if not s]
    r_lab = [t for t, s in zip(right_ticks, right_labels) if s]
    r_unl = [t for t, s in zip(right_ticks, right_labels) if not s]

    if show_x:
        xaxis = alt.Axis(values=MAJOR_DAYS, labelExpr=label_expr(MAJOR_DAYS, MAJOR_LABELS),
                         ticks=False, domain=False, grid=False, labelFlush=False,
                         labelOverlap=False, labelFontSize=40, labelPadding=12,
                         labelColor="black", labelFont=FONT, title=None)
    else:
        xaxis = None

    # the bottom-most left label is nudged up a little so it clears the date labels
    left_axis = alt.Axis(values=l_lab, labelExpr=label_expr(left_ticks, left_labels),
                         labelOffset={"condition": {"test": "datum.value == %r" % left_ticks[0],
                                                    "value": -6}, "value": 0},
                         tickSize=MAJOR_LEN, tickWidth=2, tickColor="black", domain=False, grid=False,
                         labelFontSize=32, labelPadding=16, labelColor="black", labelFont=FONT,
                         labelOverlap=False, labelFlush=False,
                         title=left_title, titleFontSize=left_title_size, titleFont=FONT,
                         titleFontWeight="normal", titleColor="black", titlePadding=56,
                         titleLineHeight=left_title_size * 1.1)
    right_axis = alt.Axis(values=r_lab, labelExpr=label_expr(right_ticks, right_labels),
                          orient="right", offset=RIGHT_OFFSET,
                          tickSize=MAJOR_LEN, tickWidth=2, tickColor="black",
                          domain=True, domainColor="black", domainWidth=2, grid=False,
                          labelFontSize=32, labelPadding=12, labelColor="black", labelFont=FONT,
                          labelOverlap=False, labelFlush=False,
                          title=right_title, titleFontSize=40, titleFont=FONT,
                          titleFontWeight="normal", titleColor=right_color, titlePadding=55,
                          titleLineHeight=44)

    left_line = alt.Chart(left_df).mark_line(color=left_color, strokeWidth=2.2, clip=True).encode(
        x=alt.X("t:Q", scale=XSCALE, axis=xaxis),
        y=alt.Y("v:Q", scale=lscale, axis=left_axis),
        detail="seg:N")
    right_line = alt.Chart(right_df).mark_line(color=right_color, strokeWidth=2.2, clip=True).encode(
        x=alt.X("t:Q", scale=XSCALE, axis=None),
        y=alt.Y("v:Q", scale=rscale, axis=right_axis),
        detail="seg:N")

    layers = [left_line,
              y_tick_rules(minor_values(left_ticks), lscale, -MINOR_LEN, 0),
              y_tick_rules(minor_values(right_ticks), rscale, W + RIGHT_OFFSET, W + RIGHT_OFFSET + MINOR_LEN)]
    if l_unl:
        layers.append(y_tick_rules(l_unl, lscale, -MAJOR_LEN, 0))
    if r_unl:
        layers.append(y_tick_rules(r_unl, rscale, W + RIGHT_OFFSET, W + RIGHT_OFFSET + MAJOR_LEN))
    layers += x_tick_layers(h)
    layers.append(right_line)

    return alt.layer(*layers).resolve_scale(y="independent").resolve_axis(
        x="independent", y="independent").properties(width=W, height=h)


p1 = panel(389, const_frame(ELECTRON_DISCARDS), "black", P1_LEFT_TICKS, P1_LEFT_LABELS, TITLE_ELEC, 34,
           seg_frame(STARTS), CYAN, P1_RIGHT_TICKS, P1_RIGHT_LABELS, TITLE_STARTS, False)
p2 = panel(392, seg_frame(HIE_ION), "black", P2_LEFT_TICKS, P2_LEFT_LABELS, TITLE_HIE, 34,
           seg_frame(STOPS), GREEN, P2_RIGHT_TICKS, P2_RIGHT_LABELS, TITLE_STOPS, False)
p3 = panel(393, const_frame(DIAGNOSTIC_DISCARDS), "black", P3_LEFT_TICKS, P3_LEFT_LABELS, TITLE_DIAG, 31,
           seg_frame(VALID_TOF), RED, P3_RIGHT_TICKS, P3_RIGHT_LABELS, TITLE_TOF, True)

chart = alt.vconcat(p1, p2, p3, spacing=7).properties(
    padding={"left": 10, "top": 8, "right": 5, "bottom": 0},
    background="white",
).configure_view(stroke="black", strokeWidth=2)

chart.save("out.html", embed_options={"renderer": "svg", "actions": False})
